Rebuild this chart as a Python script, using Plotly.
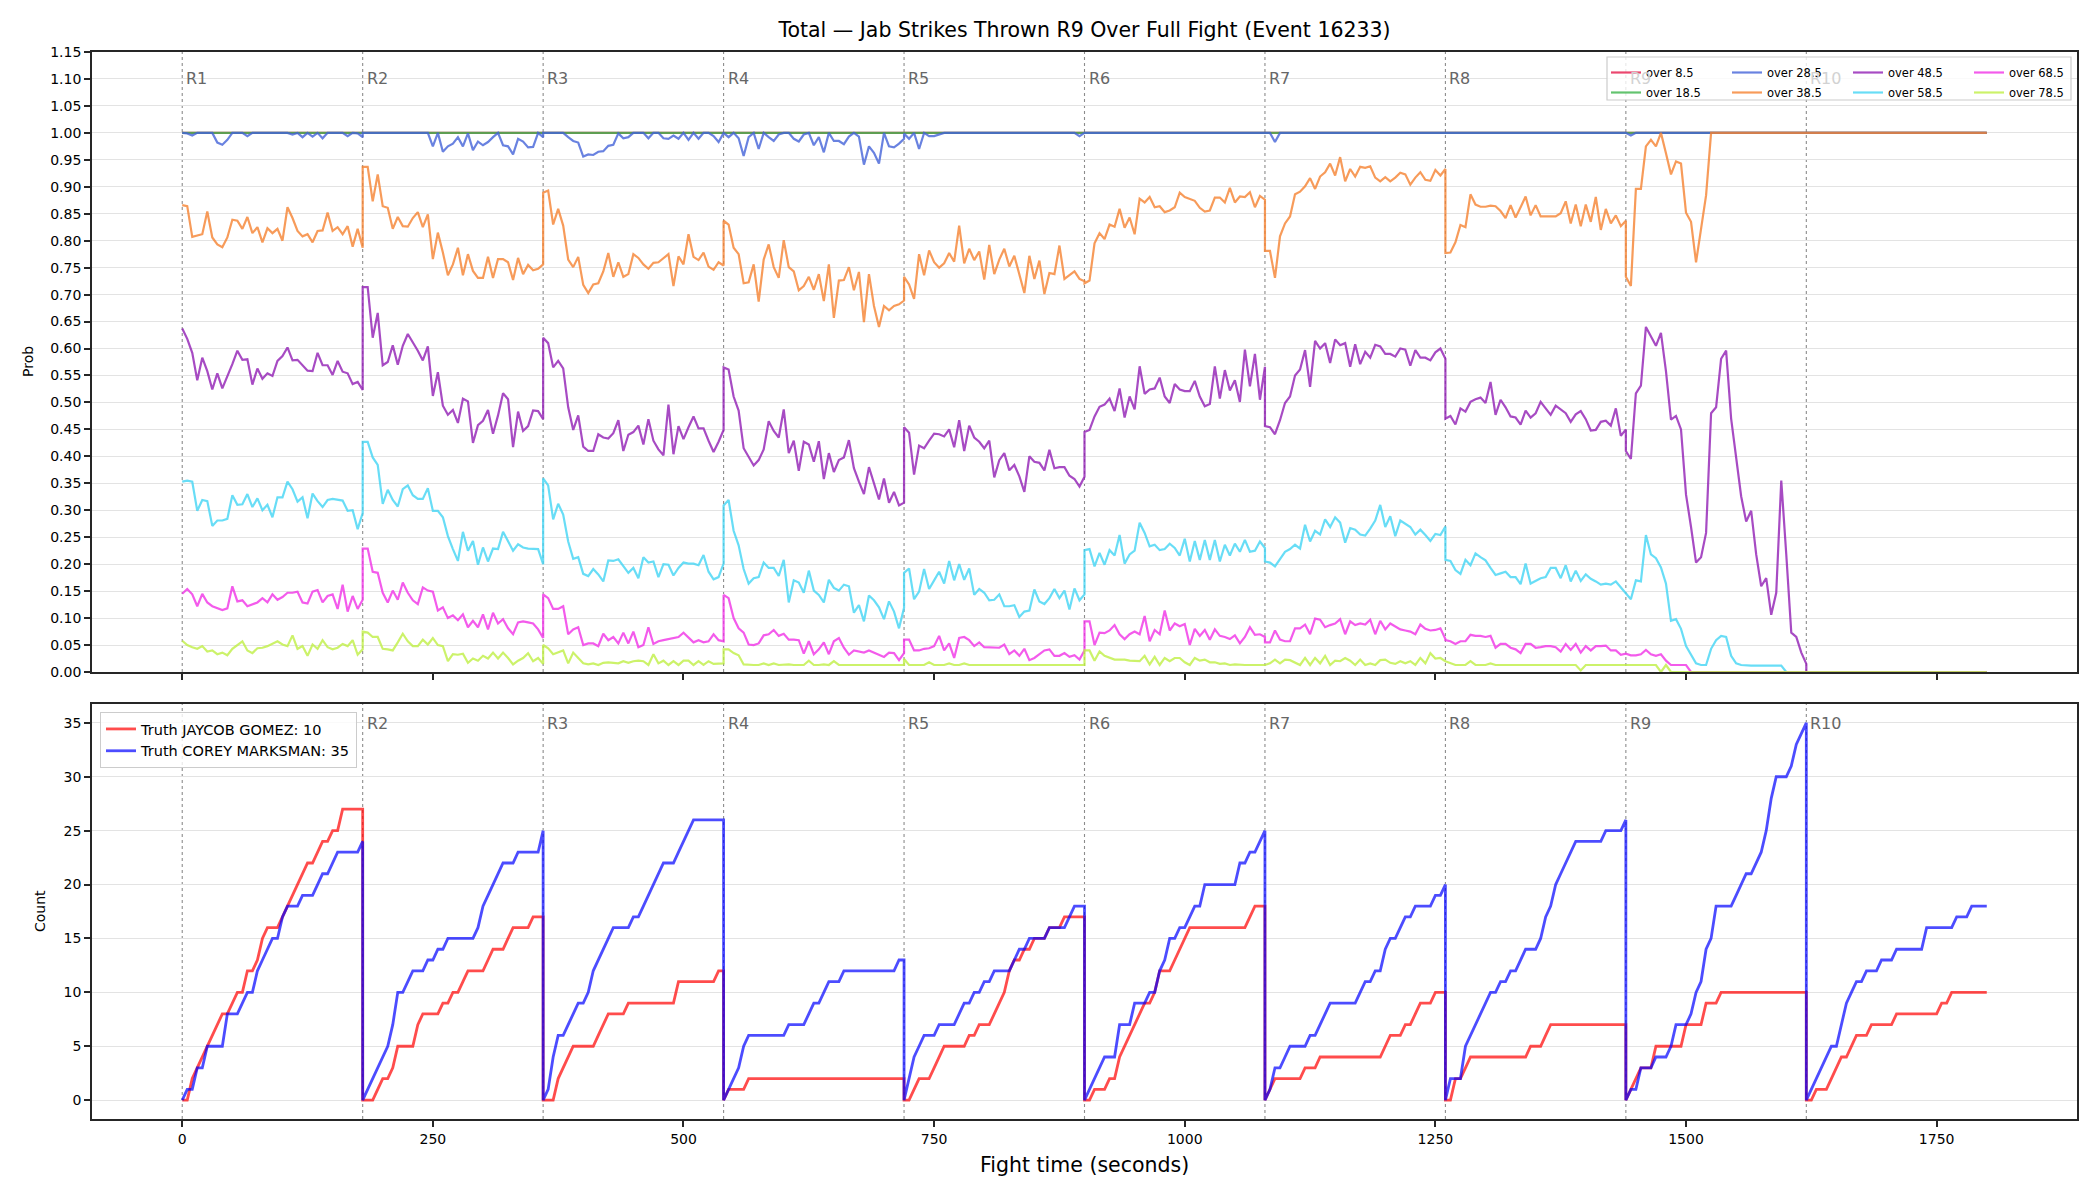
import plotly.graph_objects as go

# ---------------- data ----------------
ROUND_STARTS = [0, 180, 360, 540, 720, 900, 1080, 1260, 1440, 1620]
ROUND_LABELS = ["R1", "R2", "R3", "R4", "R5", "R6", "R7", "R8", "R9", "R10"]
ROUND_LEN = 180
FIGHT_SPAN = [0, 1800]
X_TICKS = [0, 250, 500, 750, 1000, 1250, 1500, 1750]

TITLE = "Total \u2014 Jab Strikes Thrown R9 Over Full Fight (Event 16233)"
SERIES_NAMES = ["over 8.5", "over 18.5", "over 28.5", "over 38.5",
                "over 48.5", "over 58.5", "over 68.5", "over 78.5"]

# flat over whole fight
over_8_5 = [1.0, 1.0]
over_18_5 = [1.0, 1.0]

# per round values (each round sampled evenly over its 180 s)
over_28_5 = [
    [1.0, 0.999, 0.995, 1.0, 1.0, 1.0, 1.0, 0.982, 0.978, 0.987, 1.0, 1.0, 1.0, 0.994, 1.0, 1.0, 1.0, 0.999, 1.0, 1.0,
     1.0, 1.0, 0.997, 1.0, 0.992, 1.0, 0.993, 1.0, 0.990, 1.0, 1.0, 1.0, 1.0, 0.994, 1.0, 0.999, 0.992],
    [1.0, 1.0, 1.0, 1.0, 1.0, 1.0, 1.0, 1.0, 1.0, 1.0, 1.0, 1.0, 1.0, 1.0, 0.975, 1.0, 0.965, 0.975, 0.980, 0.992,
     0.975, 0.999, 0.968, 0.984, 0.977, 0.983, 0.992, 1.0, 0.977, 0.975, 0.960, 0.989, 0.984, 0.973, 0.974, 1.0, 0.992],
    [1.0, 1.0, 1.0, 1.0, 1.0, 0.992, 0.985, 0.982, 0.956, 0.960, 0.959, 0.965, 0.966, 0.976, 0.978, 0.999, 0.990, 0.992,
     1.0, 1.0, 1.0, 0.990, 1.0, 1.0, 0.990, 0.989, 0.995, 0.989, 1.0, 0.987, 1.0, 0.989, 1.0, 1.0, 0.994, 0.983, 1.0],
    [1.0, 0.992, 1.0, 0.990, 0.957, 0.992, 1.0, 0.970, 1.0, 0.992, 0.985, 0.997, 1.0, 1.0, 0.989, 0.984, 0.997, 1.0,
     0.977, 0.992, 0.964, 1.0, 0.985, 0.985, 0.979, 0.993, 1.0, 0.993, 0.941, 0.975, 0.963, 0.943, 1.0, 0.975, 0.973,
     0.980, 0.989],
    [0.999, 0.989, 1.0, 0.970, 1.0, 0.994, 0.994, 0.997,
     1.0, 1.0, 1.0, 1.0, 1.0, 1.0, 1.0, 1.0, 1.0,
     1.0, 1.0, 1.0, 1.0, 1.0, 1.0, 1.0, 1.0, 1.0,
     1.0, 1.0, 1.0, 1.0, 1.0, 1.0, 1.0, 1.0, 1.0,
     0.994, 1.0],
    [1.0, 1.0],
    [1.0, 1.0, 0.983,
     1.0, 1.0, 1.0, 1.0, 1.0, 1.0, 1.0, 1.0, 1.0, 1.0,
     1.0, 1.0, 1.0, 1.0, 1.0, 1.0, 1.0, 1.0, 1.0, 1.0,
     1.0, 1.0, 1.0, 1.0, 1.0, 1.0, 1.0, 1.0, 1.0, 1.0,
     1.0, 1.0, 1.0, 1.0],
    [1.0, 1.0],
    [1.0, 0.995,
     1.0, 1.0, 1.0, 1.0, 1.0, 1.0, 1.0, 1.0, 1.0, 1.0,
     1.0, 1.0, 1.0, 1.0, 1.0, 1.0, 1.0, 1.0, 1.0, 1.0,
     1.0, 1.0, 1.0, 1.0, 1.0, 1.0, 1.0, 1.0, 1.0, 1.0,
     1.0, 1.0, 1.0, 1.0, 1.0],
    [1.0, 1.0],
]

over_38_5 = [
    [0.866, 0.864, 0.807, 0.810, 0.812, 0.854, 0.806, 0.793, 0.788, 0.806, 0.839, 0.837, 0.822, 0.844, 0.814, 0.825,
     0.797, 0.823, 0.814, 0.822, 0.800, 0.862, 0.842, 0.818, 0.808, 0.812, 0.797, 0.818, 0.819, 0.852, 0.818, 0.825,
     0.812, 0.827, 0.789, 0.822, 0.787],
    [0.937, 0.937, 0.873, 0.923, 0.864, 0.861, 0.822, 0.844, 0.827, 0.826, 0.842, 0.853, 0.825, 0.849, 0.766, 0.815,
     0.778, 0.736, 0.756, 0.787, 0.736, 0.775, 0.744, 0.731, 0.731, 0.770, 0.731, 0.766, 0.766, 0.760, 0.727, 0.768,
     0.738, 0.755, 0.745, 0.748, 0.756],
    [0.889, 0.893, 0.830, 0.859, 0.828, 0.765, 0.751, 0.770, 0.718, 0.703, 0.719, 0.721, 0.743, 0.777, 0.733, 0.760,
     0.733, 0.738, 0.775, 0.768, 0.756, 0.748, 0.759, 0.760, 0.768, 0.775, 0.716, 0.771, 0.756, 0.812, 0.770, 0.764,
     0.778, 0.752, 0.746, 0.760, 0.754],
    [0.837, 0.830, 0.787, 0.775, 0.721, 0.723, 0.756, 0.687, 0.765, 0.793, 0.751, 0.731, 0.801, 0.751, 0.743, 0.708,
     0.716, 0.733, 0.709, 0.738, 0.688, 0.756, 0.657, 0.726, 0.727, 0.751, 0.708, 0.742, 0.649, 0.738, 0.679, 0.640,
     0.679, 0.671, 0.679, 0.682, 0.689],
    [0.733, 0.719, 0.692, 0.775, 0.736, 0.782, 0.760, 0.750, 0.758, 0.777, 0.761, 0.828, 0.758, 0.785, 0.764, 0.780,
     0.728, 0.792, 0.738, 0.765, 0.785, 0.752, 0.772, 0.735, 0.703, 0.772, 0.729, 0.763, 0.701, 0.740, 0.738, 0.791,
     0.729, 0.736, 0.743, 0.729, 0.725],
    [0.721, 0.726, 0.795, 0.814, 0.803, 0.830, 0.826, 0.859, 0.824, 0.843, 0.812, 0.878, 0.871, 0.881, 0.862, 0.864,
     0.853, 0.856, 0.862, 0.889, 0.881, 0.878, 0.874, 0.861, 0.854, 0.856, 0.880, 0.880, 0.871, 0.898, 0.871, 0.882,
     0.881, 0.890, 0.862, 0.883, 0.876],
    [0.781, 0.781, 0.731, 0.808, 0.832, 0.845, 0.886, 0.891, 0.901, 0.916, 0.896, 0.919, 0.927, 0.943, 0.921, 0.955,
     0.910, 0.933, 0.919, 0.937, 0.935, 0.938, 0.917, 0.910, 0.918, 0.910, 0.917, 0.926, 0.923, 0.904, 0.917, 0.927,
     0.913, 0.911, 0.931, 0.921, 0.933],
    [0.777, 0.778, 0.797, 0.829, 0.825, 0.886, 0.867, 0.863, 0.863, 0.865, 0.864, 0.855, 0.842, 0.866, 0.843, 0.862,
     0.882, 0.847, 0.866, 0.845, 0.845, 0.844, 0.845, 0.851, 0.873, 0.832, 0.867, 0.827, 0.867, 0.835, 0.881, 0.820,
     0.859, 0.832, 0.847, 0.827, 0.837],
    [0.733, 0.716, 0.896, 0.896, 0.975, 0.987, 0.975, 1.0, 0.962, 0.923, 0.947, 0.943, 0.852, 0.835, 0.760, 0.820,
     0.884, 1.0,
     1.0, 1.0, 1.0, 1.0, 1.0, 1.0, 1.0, 1.0, 1.0, 1.0,
     1.0, 1.0, 1.0, 1.0, 1.0, 1.0, 1.0, 1.0, 1.0],
    [1.0, 1.0],
]

over_48_5 = [
    [0.637, 0.618, 0.592, 0.541, 0.583, 0.558, 0.524, 0.554, 0.526, 0.548, 0.571, 0.596, 0.579, 0.580, 0.533, 0.563,
     0.544, 0.554, 0.549, 0.577, 0.586, 0.602, 0.578, 0.579, 0.569, 0.559, 0.558, 0.592, 0.569, 0.569, 0.551, 0.577,
     0.557, 0.554, 0.534, 0.538, 0.523],
    [0.714, 0.714, 0.620, 0.666, 0.569, 0.575, 0.606, 0.570, 0.605, 0.627, 0.612, 0.596, 0.578, 0.604, 0.512, 0.556,
     0.494, 0.477, 0.486, 0.462, 0.507, 0.502, 0.425, 0.458, 0.466, 0.486, 0.442, 0.476, 0.517, 0.506, 0.417, 0.483,
     0.447, 0.456, 0.485, 0.484, 0.469],
    [0.620, 0.610, 0.565, 0.577, 0.563, 0.491, 0.449, 0.476, 0.418, 0.410, 0.410, 0.441, 0.435, 0.433, 0.443, 0.467,
     0.410, 0.440, 0.445, 0.457, 0.422, 0.469, 0.429, 0.413, 0.402, 0.496, 0.404, 0.456, 0.432, 0.454, 0.474, 0.452,
     0.452, 0.429, 0.408, 0.427, 0.449],
    [0.565, 0.561, 0.511, 0.485, 0.415, 0.398, 0.383, 0.393, 0.413, 0.465, 0.447, 0.435, 0.487, 0.406, 0.429, 0.373,
     0.427, 0.422, 0.390, 0.428, 0.358, 0.406, 0.371, 0.393, 0.398, 0.430, 0.378, 0.353, 0.330, 0.380, 0.349, 0.320,
     0.359, 0.314, 0.334, 0.309, 0.314],
    [0.454, 0.444, 0.366, 0.420, 0.415, 0.429, 0.442, 0.441, 0.437, 0.450, 0.417, 0.467, 0.410, 0.457, 0.435, 0.427,
     0.415, 0.429, 0.361, 0.393, 0.406, 0.374, 0.384, 0.363, 0.334, 0.400, 0.390, 0.388, 0.374, 0.412, 0.378, 0.380,
     0.380, 0.364, 0.358, 0.344, 0.362],
    [0.445, 0.449, 0.474, 0.492, 0.496, 0.507, 0.484, 0.526, 0.472, 0.511, 0.487, 0.567, 0.516, 0.524, 0.526, 0.546,
     0.511, 0.499, 0.534, 0.524, 0.521, 0.521, 0.540, 0.511, 0.493, 0.497, 0.567, 0.507, 0.560, 0.522, 0.541, 0.501,
     0.598, 0.530, 0.590, 0.505, 0.566],
    [0.456, 0.454, 0.441, 0.467, 0.499, 0.511, 0.550, 0.561, 0.597, 0.529, 0.614, 0.600, 0.610, 0.573, 0.617, 0.606,
     0.610, 0.566, 0.608, 0.571, 0.594, 0.583, 0.607, 0.604, 0.590, 0.590, 0.585, 0.600, 0.598, 0.568, 0.597, 0.583,
     0.583, 0.578, 0.593, 0.600, 0.581],
    [0.470, 0.475, 0.459, 0.489, 0.483, 0.501, 0.506, 0.509, 0.499, 0.538, 0.477, 0.505, 0.491, 0.474, 0.472, 0.459,
     0.485, 0.472, 0.480, 0.501, 0.489, 0.477, 0.494, 0.487, 0.480, 0.464, 0.478, 0.484, 0.469, 0.448, 0.449, 0.464,
     0.466, 0.457, 0.489, 0.438, 0.450],
    [0.410, 0.395, 0.517, 0.531, 0.640, 0.622, 0.605, 0.629, 0.558, 0.468, 0.475, 0.450, 0.329, 0.269, 0.203, 0.213,
     0.258, 0.480, 0.491, 0.581, 0.596, 0.470, 0.396, 0.326, 0.279, 0.299, 0.218, 0.159, 0.174, 0.106, 0.147, 0.355,
     0.218, 0.073, 0.065, 0.036, 0.015],
    [0.0, 0.0],
]

over_58_5 = [
    [0.353, 0.355, 0.353, 0.299, 0.319, 0.317, 0.271, 0.281, 0.281, 0.284, 0.328, 0.310, 0.311, 0.330, 0.306, 0.322,
     0.300, 0.310, 0.287, 0.324, 0.324, 0.353, 0.339, 0.316, 0.324, 0.285, 0.331, 0.317, 0.306, 0.319, 0.321, 0.320,
     0.318, 0.299, 0.300, 0.265, 0.295],
    [0.427, 0.427, 0.398, 0.384, 0.312, 0.338, 0.319, 0.307, 0.339, 0.346, 0.328, 0.321, 0.321, 0.341, 0.299, 0.299,
     0.287, 0.252, 0.228, 0.206, 0.260, 0.225, 0.243, 0.199, 0.231, 0.205, 0.229, 0.228, 0.260, 0.243, 0.225, 0.237,
     0.231, 0.229, 0.229, 0.228, 0.200],
    [0.359, 0.346, 0.283, 0.312, 0.292, 0.242, 0.210, 0.213, 0.182, 0.178, 0.191, 0.181, 0.168, 0.207, 0.206, 0.209,
     0.196, 0.184, 0.193, 0.174, 0.213, 0.203, 0.205, 0.176, 0.200, 0.199, 0.179, 0.193, 0.203, 0.201, 0.201, 0.198,
     0.217, 0.186, 0.172, 0.176, 0.201],
    [0.309, 0.319, 0.262, 0.235, 0.191, 0.164, 0.174, 0.176, 0.203, 0.193, 0.193, 0.178, 0.208, 0.129, 0.170, 0.166,
     0.147, 0.188, 0.151, 0.143, 0.129, 0.171, 0.156, 0.151, 0.162, 0.159, 0.110, 0.124, 0.094, 0.142, 0.133, 0.120,
     0.098, 0.131, 0.112, 0.081, 0.119],
    [0.184, 0.192, 0.135, 0.149, 0.191, 0.154, 0.170, 0.186, 0.164, 0.206, 0.170, 0.200, 0.171, 0.192, 0.143, 0.154,
     0.147, 0.133, 0.134, 0.144, 0.122, 0.122, 0.124, 0.102, 0.112, 0.114, 0.153, 0.131, 0.126, 0.137, 0.154, 0.137,
     0.151, 0.116, 0.155, 0.133, 0.144],
    [0.226, 0.228, 0.196, 0.221, 0.199, 0.226, 0.216, 0.254, 0.201, 0.218, 0.225, 0.277, 0.258, 0.233, 0.236, 0.226,
     0.228, 0.238, 0.230, 0.216, 0.247, 0.205, 0.243, 0.208, 0.245, 0.208, 0.245, 0.205, 0.236, 0.216, 0.238, 0.223,
     0.245, 0.223, 0.225, 0.242, 0.230],
    [0.205, 0.203, 0.196, 0.210, 0.223, 0.228, 0.236, 0.229, 0.273, 0.242, 0.262, 0.255, 0.283, 0.269, 0.287, 0.277,
     0.240, 0.267, 0.264, 0.255, 0.253, 0.266, 0.281, 0.310, 0.269, 0.289, 0.252, 0.281, 0.275, 0.269, 0.255, 0.264,
     0.254, 0.243, 0.256, 0.254, 0.270],
    [0.208, 0.206, 0.189, 0.182, 0.208, 0.198, 0.220, 0.213, 0.207, 0.193, 0.180, 0.183, 0.186, 0.176, 0.176, 0.163,
     0.201, 0.164, 0.169, 0.174, 0.176, 0.193, 0.193, 0.174, 0.198, 0.168, 0.188, 0.169, 0.181, 0.173, 0.168, 0.162,
     0.164, 0.162, 0.168, 0.157, 0.144],
    [0.144, 0.135, 0.170, 0.168, 0.254, 0.218, 0.211, 0.194, 0.164, 0.095, 0.098, 0.080, 0.048, 0.033, 0.016, 0.013,
     0.013, 0.043, 0.059, 0.067, 0.065, 0.030, 0.016, 0.013, 0.012, 0.012, 0.012, 0.012, 0.012, 0.012, 0.012, 0.012,
     0.0, 0.0, 0.0, 0.0, 0.0],
    [0.0, 0.0],
]

over_68_5 = [
    [0.145, 0.154, 0.144, 0.122, 0.145, 0.129, 0.122, 0.119, 0.115, 0.118, 0.159, 0.131, 0.133, 0.122, 0.126, 0.129,
     0.137, 0.129, 0.144, 0.134, 0.139, 0.147, 0.147, 0.149, 0.129, 0.127, 0.149, 0.152, 0.129, 0.141, 0.144, 0.117,
     0.162, 0.112, 0.141, 0.117, 0.134],
    [0.229, 0.229, 0.186, 0.184, 0.147, 0.129, 0.151, 0.134, 0.166, 0.147, 0.133, 0.126, 0.157, 0.151, 0.149, 0.114,
     0.120, 0.100, 0.105, 0.096, 0.107, 0.083, 0.095, 0.083, 0.107, 0.079, 0.110, 0.090, 0.098, 0.081, 0.070, 0.092,
     0.094, 0.092, 0.090, 0.079, 0.063],
    [0.144, 0.137, 0.117, 0.117, 0.122, 0.070, 0.079, 0.083, 0.050, 0.053, 0.053, 0.048, 0.071, 0.059, 0.065, 0.053,
     0.073, 0.053, 0.075, 0.046, 0.050, 0.083, 0.052, 0.057, 0.059, 0.061, 0.063, 0.065, 0.073, 0.063, 0.055, 0.059,
     0.055, 0.057, 0.070, 0.059, 0.057],
    [0.143, 0.137, 0.100, 0.081, 0.073, 0.051, 0.050, 0.053, 0.068, 0.070, 0.078, 0.067, 0.071, 0.060, 0.060, 0.059,
     0.034, 0.057, 0.033, 0.042, 0.055, 0.033, 0.057, 0.063, 0.045, 0.032, 0.040, 0.038, 0.036, 0.040, 0.036, 0.033,
     0.028, 0.036, 0.035, 0.022, 0.035],
    [0.060, 0.060, 0.040, 0.040, 0.043, 0.044, 0.048, 0.067, 0.040, 0.053, 0.026, 0.063, 0.065, 0.059, 0.048, 0.055,
     0.046, 0.046, 0.046, 0.045, 0.051, 0.033, 0.040, 0.030, 0.043, 0.022, 0.026, 0.033, 0.040, 0.042, 0.030, 0.030,
     0.035, 0.028, 0.031, 0.023, 0.040],
    [0.094, 0.094, 0.050, 0.073, 0.072, 0.077, 0.087, 0.070, 0.061, 0.070, 0.075, 0.070, 0.104, 0.057, 0.078, 0.070,
     0.114, 0.077, 0.090, 0.085, 0.089, 0.050, 0.080, 0.067, 0.078, 0.060, 0.079, 0.067, 0.065, 0.061, 0.068, 0.053,
     0.065, 0.083, 0.069, 0.070, 0.065],
    [0.055, 0.055, 0.077, 0.060, 0.057, 0.057, 0.081, 0.081, 0.088, 0.070, 0.099, 0.097, 0.083, 0.087, 0.090, 0.098,
     0.070, 0.094, 0.087, 0.090, 0.088, 0.097, 0.070, 0.095, 0.079, 0.090, 0.085, 0.079, 0.077, 0.075, 0.070, 0.088,
     0.080, 0.077, 0.078, 0.081, 0.061],
    [0.059, 0.057, 0.052, 0.057, 0.057, 0.069, 0.067, 0.067, 0.065, 0.067, 0.045, 0.052, 0.052, 0.045, 0.042, 0.035,
     0.052, 0.052, 0.045, 0.046, 0.048, 0.048, 0.046, 0.038, 0.052, 0.041, 0.052, 0.036, 0.048, 0.040, 0.048, 0.048,
     0.049, 0.040, 0.040, 0.032, 0.034],
    [0.034, 0.031, 0.031, 0.033, 0.041, 0.033, 0.030, 0.033, 0.021, 0.013, 0.013, 0.013, 0.013,
     0.0, 0.0, 0.0, 0.0, 0.0, 0.0, 0.0, 0.0, 0.0, 0.0, 0.0, 0.0,
     0.0, 0.0, 0.0, 0.0, 0.0, 0.0, 0.0, 0.0, 0.0, 0.0, 0.0, 0.0],
    [0.0, 0.0],
]

over_78_5 = [
    [0.058, 0.050, 0.046, 0.043, 0.048, 0.038, 0.040, 0.033, 0.036, 0.031, 0.043, 0.050, 0.057, 0.040, 0.035, 0.044,
     0.045, 0.048, 0.052, 0.057, 0.051, 0.048, 0.068, 0.043, 0.048, 0.030, 0.051, 0.043, 0.059, 0.046, 0.042, 0.045,
     0.052, 0.048, 0.059, 0.032, 0.042],
    [0.075, 0.073, 0.065, 0.065, 0.043, 0.042, 0.040, 0.055, 0.071, 0.057, 0.048, 0.048, 0.060, 0.051, 0.063, 0.050,
     0.048, 0.020, 0.033, 0.032, 0.034, 0.017, 0.025, 0.021, 0.030, 0.025, 0.036, 0.025, 0.036, 0.026, 0.014, 0.021,
     0.026, 0.035, 0.020, 0.026, 0.015],
    [0.050, 0.044, 0.033, 0.036, 0.040, 0.016, 0.036, 0.026, 0.016, 0.014, 0.016, 0.013, 0.017, 0.018, 0.017, 0.016,
     0.020, 0.017, 0.020, 0.021, 0.020, 0.013, 0.033, 0.016, 0.021, 0.013, 0.020, 0.013, 0.021, 0.021, 0.013, 0.020,
     0.013, 0.020, 0.015, 0.016, 0.016],
    [0.042, 0.042, 0.035, 0.031, 0.014, 0.013, 0.013, 0.013, 0.016, 0.013, 0.016, 0.013, 0.014, 0.014, 0.013, 0.013,
     0.013, 0.021, 0.013, 0.013, 0.014, 0.013, 0.020, 0.013, 0.013, 0.013, 0.013, 0.013, 0.013, 0.013, 0.013, 0.013,
     0.013, 0.013, 0.013, 0.013, 0.013],
    [0.024, 0.013, 0.013, 0.013, 0.013, 0.018, 0.013, 0.013, 0.013, 0.016, 0.013, 0.013, 0.016, 0.013, 0.013, 0.013,
     0.013, 0.013, 0.013, 0.013, 0.013, 0.013, 0.013, 0.013, 0.013, 0.013, 0.013, 0.013, 0.013, 0.013, 0.013, 0.013,
     0.013, 0.013, 0.013, 0.013, 0.013],
    [0.040, 0.040, 0.021, 0.038, 0.030, 0.026, 0.023, 0.023, 0.023, 0.021, 0.020, 0.020, 0.030, 0.014, 0.028, 0.013,
     0.026, 0.020, 0.026, 0.026, 0.018, 0.013, 0.026, 0.021, 0.023, 0.018, 0.018, 0.015, 0.016, 0.013, 0.014, 0.013,
     0.013, 0.013, 0.013, 0.013, 0.013],
    [0.013, 0.016, 0.023, 0.016, 0.023, 0.022, 0.018, 0.013, 0.026, 0.013, 0.026, 0.016, 0.030, 0.013, 0.021, 0.020,
     0.026, 0.021, 0.013, 0.023, 0.013, 0.016, 0.013, 0.022, 0.023, 0.017, 0.015, 0.020, 0.016, 0.020, 0.013, 0.026,
     0.016, 0.035, 0.025, 0.026, 0.020],
    [0.020, 0.016, 0.013, 0.013, 0.013, 0.020, 0.013, 0.013, 0.013, 0.016, 0.013, 0.013, 0.013, 0.013, 0.013, 0.013,
     0.013, 0.013, 0.013, 0.013, 0.013, 0.013, 0.013, 0.013, 0.013, 0.013, 0.013, 0.003, 0.013, 0.013, 0.013, 0.013,
     0.013, 0.013, 0.013, 0.013, 0.013],
    [0.013, 0.013, 0.013, 0.013, 0.013, 0.013, 0.013, 0.0, 0.013,
     0.0, 0.0, 0.0, 0.0, 0.0, 0.0, 0.0, 0.0, 0.0, 0.0, 0.0, 0.0, 0.0, 0.0,
     0.0, 0.0, 0.0, 0.0, 0.0, 0.0, 0.0, 0.0, 0.0, 0.0, 0.0, 0.0, 0.0, 0.0],
    [0.0, 0.0],
]

FIGHTER_NAMES = ["Truth JAYCOB GOMEZ: 10", "Truth COREY MARKSMAN: 35"]

count_gomez = [
    [0, 0, 2, 3, 4, 5, 6, 7, 8, 8, 9, 10, 10, 12, 12, 13, 15, 16, 16, 16, 17, 18, 19, 20, 21, 22, 22, 23, 24, 24,
     25, 25, 27, 27, 27, 27, 27],
    [0, 0, 0, 1, 2, 2, 3, 5, 5, 5, 5, 7, 8, 8, 8, 8, 9, 9, 10, 10, 11, 12, 12, 12, 12, 13, 14, 14, 14, 15, 16, 16,
     16, 16, 17, 17, 17],
    [0, 0, 0, 2, 3, 4, 5, 5, 5, 5, 5, 6, 7, 8, 8, 8, 8, 9, 9, 9, 9, 9, 9, 9, 9, 9, 9, 11, 11, 11, 11, 11, 11, 11,
     11, 12, 12],
    [0, 1, 1, 1, 1, 2, 2, 2, 2, 2, 2, 2, 2, 2, 2, 2, 2, 2, 2, 2, 2, 2, 2, 2, 2, 2, 2, 2, 2, 2, 2, 2, 2, 2, 2, 2, 2],
    [0, 0, 1, 2, 2, 2, 3, 4, 5, 5, 5, 5, 5, 6, 6, 7, 7, 7, 8, 9, 10, 12, 13, 13, 14, 14, 15, 15, 15, 16, 16, 16,
     17, 17, 17, 17, 17],
    [0, 0, 1, 1, 1, 2, 2, 4, 5, 6, 7, 8, 9, 9, 10, 12, 12, 12, 13, 14, 15, 16, 16, 16, 16, 16, 16, 16, 16, 16, 16,
     16, 16, 17, 18, 18, 18],
    [0, 1, 2, 2, 2, 2, 2, 2, 3, 3, 3, 4, 4, 4, 4, 4, 4, 4, 4, 4, 4, 4, 4, 4, 5, 6, 6, 6, 7, 7, 8, 9, 9, 9, 10, 10,
     10],
    [0, 0, 2, 2, 3, 4, 4, 4, 4, 4, 4, 4, 4, 4, 4, 4, 4, 5, 5, 5, 6, 7, 7, 7, 7, 7, 7, 7, 7, 7, 7, 7, 7, 7, 7, 7, 7],
    [0, 1, 2, 3, 3, 3, 5, 5, 5, 5, 5, 5, 7, 7, 7, 7, 9, 9, 9, 10, 10, 10, 10, 10, 10, 10, 10, 10, 10, 10, 10, 10,
     10, 10, 10, 10, 10],
    [0, 0, 1, 1, 1, 2, 3, 4, 4, 5, 6, 6, 6, 7, 7, 7, 7, 7, 8, 8, 8, 8, 8, 8, 8, 8, 8, 9, 9, 10, 10, 10, 10, 10, 10,
     10, 10],
]

count_marksman = [
    [0, 1, 1, 3, 3, 5, 5, 5, 5, 8, 8, 8, 9, 10, 10, 12, 13, 14, 15, 15, 17, 18, 18, 18, 19, 19, 19, 20, 21, 21, 22,
     23, 23, 23, 23, 23, 24],
    [0, 1, 2, 3, 4, 5, 7, 10, 10, 11, 12, 12, 12, 13, 13, 14, 14, 15, 15, 15, 15, 15, 15, 16, 18, 19, 20, 21, 22,
     22, 22, 23, 23, 23, 23, 23, 25],
    [0, 1, 4, 6, 6, 7, 8, 9, 9, 10, 12, 13, 14, 15, 16, 16, 16, 16, 17, 17, 18, 19, 20, 21, 22, 22, 22, 23, 24, 25,
     26, 26, 26, 26, 26, 26, 26],
    [0, 1, 2, 3, 5, 6, 6, 6, 6, 6, 6, 6, 6, 7, 7, 7, 7, 8, 9, 9, 10, 11, 11, 11, 12, 12, 12, 12, 12, 12, 12, 12,
     12, 12, 12, 13, 13],
    [0, 2, 4, 5, 6, 6, 6, 7, 7, 7, 7, 8, 9, 9, 10, 10, 11, 11, 12, 12, 12, 12, 13, 14, 14, 15, 15, 15, 15, 16, 16,
     16, 16, 17, 18, 18, 18],
    [0, 1, 2, 3, 4, 4, 4, 7, 7, 7, 9, 9, 9, 10, 10, 12, 13, 15, 15, 16, 16, 17, 18, 18, 20, 20, 20, 20, 20, 20, 20,
     22, 22, 23, 23, 24, 25],
    [0, 1, 3, 3, 4, 5, 5, 5, 5, 6, 6, 7, 8, 9, 9, 9, 9, 9, 9, 10, 11, 11, 12, 12, 14, 15, 15, 16, 17, 17, 18, 18,
     18, 18, 19, 19, 20],
    [0, 2, 2, 2, 5, 6, 7, 8, 9, 10, 10, 11, 11, 12, 12, 13, 14, 14, 14, 15, 17, 18, 20, 21, 22, 23, 24, 24, 24, 24,
     24, 24, 25, 25, 25, 25, 26],
    [0, 1, 1, 3, 3, 3, 4, 4, 4, 5, 7, 7, 7, 8, 10, 11, 14, 15, 18, 18, 18, 18, 19, 20, 21, 21, 22, 23, 25, 28, 30,
     30, 30, 31, 33, 34, 35],
    [0, 1, 2, 3, 4, 5, 5, 7, 9, 10, 11, 11, 12, 12, 12, 13, 13, 13, 14, 14, 14, 14, 14, 14, 16, 16, 16, 16, 16, 16,
     17, 17, 17, 18, 18, 18, 18],
]

# ---------------- styling ----------------
W, H = 2100, 1200
ML, MR, MT, MB = 92, 23, 52, 81
PW, PH = W - ML - MR, H - MT - MB


def pxx(xpix):
    return (xpix - ML) / PW


def pyy(ypix):
    return (H - MB - ypix) / PH


TOP_DOMAIN = [pyy(672), 1.0]
BOT_DOMAIN = [0.0, pyy(704)]

PROB_COLORS = ["rgba(230,25,75,0.8)", "rgba(60,180,75,0.8)", "rgba(67,99,216,0.8)", "rgba(245,130,49,0.8)",
               "rgba(145,30,180,0.8)", "rgba(66,212,244,0.8)", "rgba(240,50,230,0.8)", "rgba(191,239,69,0.8)"]
COUNT_COLORS = ["rgba(255,0,0,0.7)", "rgba(0,0,255,0.7)"]
FONT = "DejaVu Sans"
AXIS_COLOR = "#262626"
GRID_COLOR = "#e3e3e3"


def expand(per_round):
    xs, ys = [], []
    for start, vals in zip(ROUND_STARTS, per_round):
        n = len(vals)
        for i, v in enumerate(vals):
            xs.append(start + ROUND_LEN * i / (n - 1))
            ys.append(v)
    return xs, ys


fig = go.Figure()

prob_series = [over_8_5, over_18_5, over_28_5, over_38_5, over_48_5, over_58_5, over_68_5, over_78_5]
legend_of = ["legend", "legend2", "legend", "legend2", "legend", "legend2", "legend", "legend2"]
for idx, (name, data) in enumerate(zip(SERIES_NAMES, prob_series)):
    if idx < 2:
        xs, ys = FIGHT_SPAN, data
    else:
        xs, ys = expand(data)
    fig.add_trace(go.Scatter(
        x=xs, y=ys, mode="lines", name=name,
        line=dict(color=PROB_COLORS[idx], width=2.2),
        xaxis="x", yaxis="y", legend=legend_of[idx], hoverinfo="skip"))

for name, data, color in zip(FIGHTER_NAMES, [count_gomez, count_marksman], COUNT_COLORS):
    xs, ys = expand(data)
    fig.add_trace(go.Scatter(
        x=xs, y=ys, mode="lines", name=name,
        line=dict(color=color, width=2.8),
        xaxis="x2", yaxis="y2", legend="legend3", hoverinfo="skip"))

common_x = dict(range=[-90, 1890], tickmode="array", tickvals=X_TICKS, ticks="outside", ticklen=6,
                tickwidth=1.6, tickcolor=AXIS_COLOR, showgrid=False, zeroline=False, showline=True,
                linecolor=AXIS_COLOR, linewidth=1.8, mirror=True, tickfont=dict(size=14, color="#000000"))
common_y = dict(ticks="outside", ticklen=6, tickwidth=1.6, tickcolor=AXIS_COLOR, showgrid=True,
                gridcolor=GRID_COLOR, gridwidth=1, zeroline=False, showline=True, linecolor=AXIS_COLOR,
                linewidth=1.8, mirror=True, tickfont=dict(size=14, color="#000000"))

fig.update_layout(
    width=W, height=H,
    margin=dict(l=ML, r=MR, t=MT, b=MB, autoexpand=False),
    paper_bgcolor="white", plot_bgcolor="white",
    font=dict(family=FONT, size=14, color="#000000"),
    title=dict(text=TITLE, x=0.5, xref="paper", xanchor="center", y=1 - 30 / H, yref="container",
               yanchor="middle", font=dict(size=20.5, color="#000000")),
    xaxis=dict(domain=[0, 1], anchor="y", showticklabels=False, matches="x2", **common_x),
    yaxis=dict(domain=TOP_DOMAIN, anchor="x", range=[0, 1.15], tick0=0, dtick=0.05, tickformat=".2f", **common_y),
    xaxis2=dict(domain=[0, 1], anchor="y2", showticklabels=True, **common_x),
    yaxis2=dict(domain=BOT_DOMAIN, anchor="x2", range=[-1.75, 36.75], tick0=0, dtick=5, **common_y),
    legend=dict(orientation="h", x=pxx(1606), y=pyy(58), xanchor="left", yanchor="top",
                entrywidth=76, entrywidthmode="pixels", bgcolor="rgba(0,0,0,0)", borderwidth=0,
                font=dict(size=11.5, color="#000000"), traceorder="normal"),
    legend2=dict(orientation="h", x=pxx(1606), y=pyy(78), xanchor="left", yanchor="top",
                 entrywidth=76, entrywidthmode="pixels", bgcolor="rgba(0,0,0,0)", borderwidth=0,
                 font=dict(size=11.5, color="#000000"), traceorder="normal"),
    legend3=dict(orientation="v", x=pxx(100), y=pyy(712), xanchor="left", yanchor="top",
                 bgcolor="rgba(255,255,255,0.8)", bordercolor="#cccccc", borderwidth=1,
                 font=dict(size=14.5, color="#000000"), traceorder="normal"),
    showlegend=True,
)

shapes = []
annotations = []
for start, label in zip(ROUND_STARTS, ROUND_LABELS):
    for xr, yr in [("x", "y domain"), ("x2", "y2 domain")]:
        shapes.append(dict(type="line", xref=xr, yref=yr, x0=start, x1=start, y0=0, y1=1,
                           line=dict(color="#8c8c8c", width=1.1, dash="dot"), layer="below"))
    top_color = "#d2d2d2" if label in ("R9", "R10") else "#666666"
    annotations.append(dict(x=start, y=0.957, xref="x", yref="y domain", text=label, showarrow=False,
                            xanchor="left", yanchor="middle", xshift=2, font=dict(size=16, color=top_color)))
    if label != "R1":
        annotations.append(dict(x=start, y=0.952, xref="x2", yref="y2 domain", text=label, showarrow=False,
                                xanchor="left", yanchor="middle", xshift=2, font=dict(size=16, color="#666666")))

# legend frame for the two-row threshold legend
shapes.append(dict(type="rect", xref="paper", yref="paper", x0=pxx(1607), x1=pxx(2071), y0=pyy(100),
                   y1=pyy(57), fillcolor="rgba(255,255,255,0.8)", line=dict(color="#cccccc", width=1.2),
                   layer="above"))

annotations.append(dict(x=pxx(28), y=pyy(362), xref="paper", yref="paper", text="Prob", showarrow=False,
                        textangle=-90, xanchor="center", yanchor="middle", font=dict(size=14, color="#000000")))
annotations.append(dict(x=pxx(40), y=pyy(911), xref="paper", yref="paper", text="Count", showarrow=False,
                        textangle=-90, xanchor="center", yanchor="middle", font=dict(size=14, color="#000000")))
annotations.append(dict(x=0.5, y=pyy(1165), xref="paper", yref="paper", text="Fight time (seconds)",
                        showarrow=False, xanchor="center", yanchor="middle", font=dict(size=20.5, color="#000000")))

fig.update_layout(shapes=shapes, annotations=annotations)

fig.write_html("out.html")
